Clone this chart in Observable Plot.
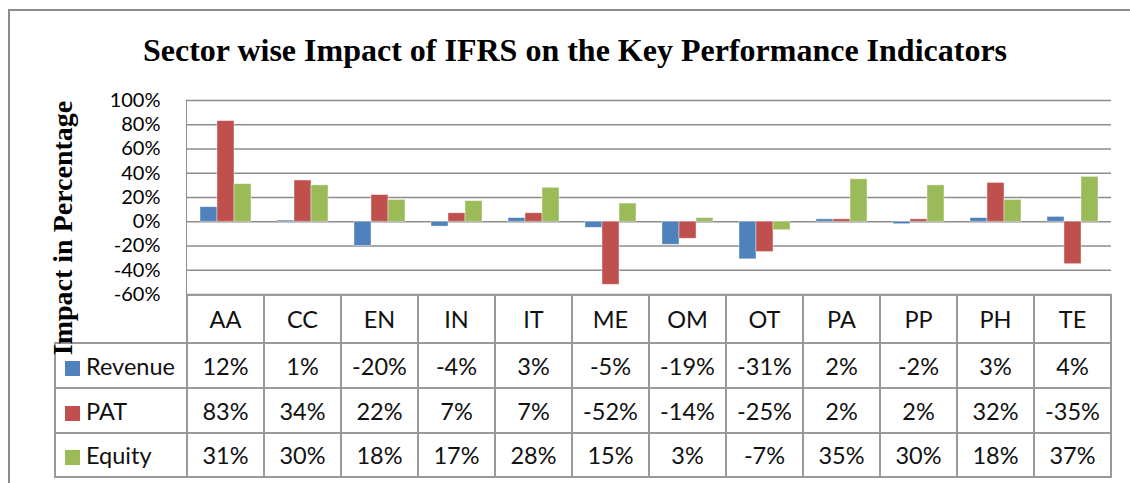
<!DOCTYPE html>
<html><head><meta charset="utf-8">
<script src="https://cdn.jsdelivr.net/npm/d3@7"></script>
<script src="https://cdn.jsdelivr.net/npm/@observablehq/plot@0.6"></script>
<style>
body{margin:0;background:#fff;width:1130px;height:483px;overflow:hidden;position:relative;font-family:Lato,sans-serif;}
#frame{position:absolute;left:8px;top:9px;width:1140px;height:490px;border:2px solid #8c8c8c;box-sizing:border-box;z-index:5;}
#title{position:absolute;left:0;top:34px;width:1150px;text-align:center;font:bold 32px/32px "Liberation Serif",serif;color:#000;z-index:4;}
#ytitle{position:absolute;left:-87px;top:213px;width:300px;height:30px;text-align:center;font:bold 28px/30px "Liberation Serif",serif;transform:rotate(-90deg);z-index:4;white-space:nowrap;}
.layer{position:absolute;left:0;top:0;}
.layer text{fill:#000;}
table{position:absolute;left:54px;top:294px;border-collapse:collapse;table-layout:fixed;width:1058px;font-size:23.5px;color:#111;z-index:3;}
td{border:2px solid #9a9a9a;text-align:center;vertical-align:middle;padding:0;white-space:nowrap;}
td.lab{text-align:left;padding-left:9px;}
td.blank{border-top:none;border-left:none;}
.sw{display:inline-block;width:15px;height:15px;margin-right:6px;vertical-align:-1px;}
</style></head>
<body>
<div id="frame"></div>
<div id="title">Sector wise Impact of IFRS on the Key Performance Indicators</div>
<div id="ytitle">Impact in Percentage</div>
<div id="under" class="layer"></div>
<div id="over" class="layer"></div>
<table id="tbl"></table>
<script>
const categories = ["AA","CC","EN","IN","IT","ME","OM","OT","PA","PP","PH","TE"];
const series = ["Revenue","PAT","Equity"];
const revenue = [12,1,-20,-4,3,-5,-19,-31,2,-2,3,4];
const pat = [83,34,22,7,7,-52,-14,-25,2,2,32,-35];
const equity = [31,30,18,17,28,15,3,-7,35,30,18,37];
const colors = ["#4F81BD","#C0504D","#9BBB59"];
const yTicks = [-60,-40,-20,0,20,40,60,80,100];

const valuesBySeries = {Revenue: revenue, PAT: pat, Equity: equity};
const data = [];
categories.forEach((c,i)=>series.forEach(s=>data.push({category:c, series:s, value:valuesBySeries[s][i]})));

const common = {width:1130,height:320,marginLeft:186,marginRight:19,marginTop:100,marginBottom:26,
  style:{background:"transparent",overflow:"visible",fontFamily:"Lato",fontSize:"20px",color:"#8c8c8c"}};

const under = Plot.plot({...common,
  x:{domain:categories, axis:null},
  y:{domain:[-60,100], ticks:yTicks, tickFormat:d=>d+"%", tickSize:0, tickPadding:26, label:null, line:true},
  marks:[Plot.ruleY(yTicks,{stroke:"#8c8c8c",strokeWidth:1.6})]
});
document.getElementById("under").appendChild(under);

const over = Plot.plot({...common,
  facet:{data:data, x:"category"},
  fx:{domain:categories, paddingInner:26/77, paddingOuter:13/77, axis:null, label:null},
  x:{domain:series, padding:0, axis:null},
  y:{domain:[-60,100], axis:null},
  color:{domain:series, range:colors},
  marks:[Plot.barY(data,{x:"series",y:"value",fill:"series",stroke:"#fff",strokeOpacity:0.5,strokeWidth:0.8})]
});
document.getElementById("over").appendChild(over);

// data table
const tbl = document.getElementById("tbl");
const cg = document.createElement("colgroup");
cg.innerHTML = '<col style="width:132px">' + categories.map(()=>'<col style="width:77px">').join("");
tbl.appendChild(cg);
const hr = tbl.insertRow(); hr.style.height="48px";
const b = hr.insertCell(); b.className="blank";
categories.forEach(c=>{ hr.insertCell().textContent=c; });
const rowH = [45,45,44];
series.forEach((s,j)=>{
  const r = tbl.insertRow(); r.style.height=rowH[j]+"px";
  const l = r.insertCell(); l.className="lab";
  l.innerHTML = '<span class="sw" style="background:'+colors[j]+'"></span>'+s;
  valuesBySeries[s].forEach(v=>{ r.insertCell().textContent = v+"%"; });
});
</script>
</body></html>
